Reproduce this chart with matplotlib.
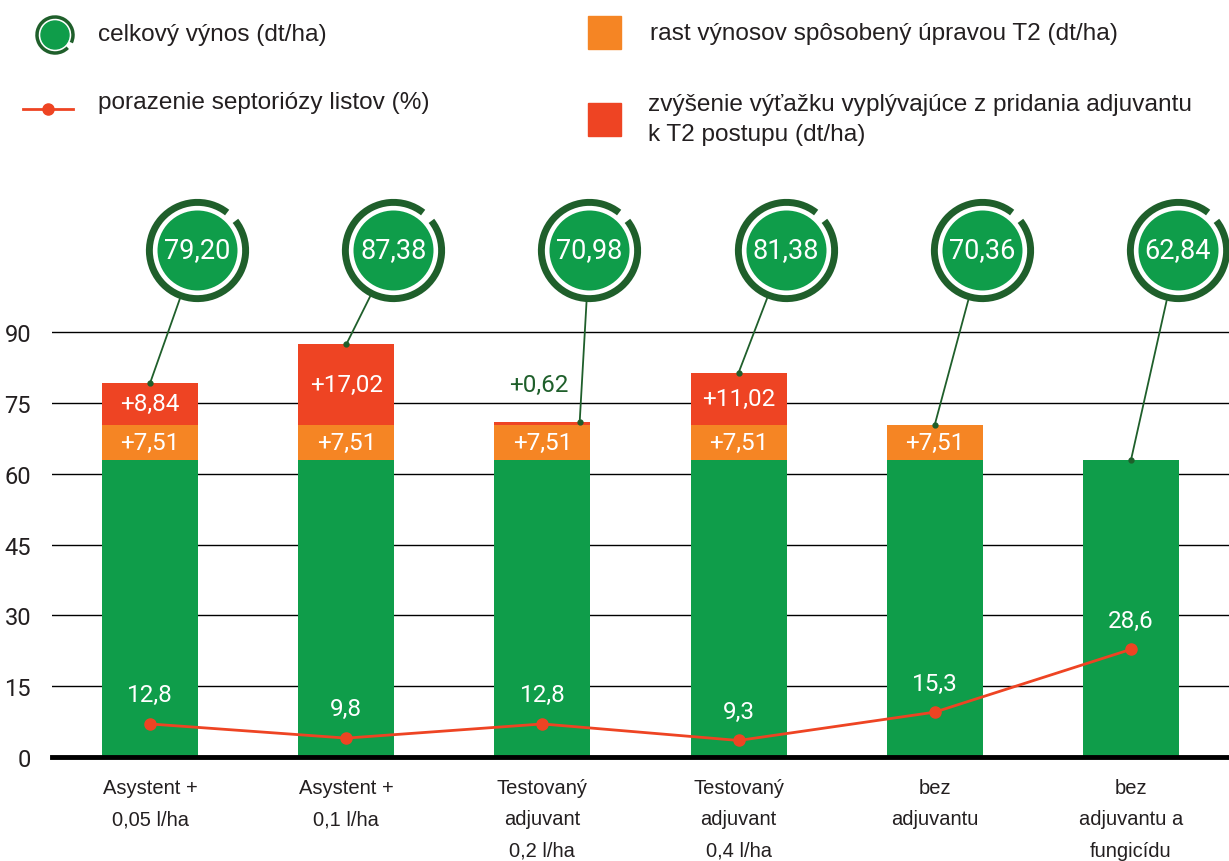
import matplotlib.pyplot as plt
from matplotlib.font_manager import FontProperties
from matplotlib.path import Path
from matplotlib.patches import Circle, Rectangle, Arc

# data
categories = ["Asystent +\n0,05 l/ha", "Asystent +\n0,1 l/ha",
              "Testovaný\nadjuvant\n0,2 l/ha", "Testovaný\nadjuvant\n0,4 l/ha",
              "bez\nadjuvantu", "bez\nadjuvantu a\nfungicídu"]
base = [62.84, 62.84, 62.84, 62.84, 62.84, 62.84]
t2_gain = [7.51, 7.51, 7.51, 7.51, 7.51, 0]
adj_gain = [8.84, 17.02, 0.62, 11.02, 0, 0]
total = [79.20, 87.38, 70.98, 81.38, 70.36, 62.84]
septoria = [12.8, 9.8, 12.8, 9.3, 15.3, 28.6]
yticks = [0, 15, 30, 45, 60, 75, 90]

GREEN = "#0f9d4a"
DARK = "#1f5f2b"
ORANGE = "#f58524"
RED = "#ee4423"
TXT = "#231f20"
REG = ["Liberation Sans", "DejaVu Sans"]


def NF(size):
    # narrow-looking face for the numbers
    return FontProperties(family=["Roboto", "DejaVu Sans"], weight="normal", size=size)


fig = plt.figure(figsize=(12.29, 8.62), dpi=100)

# overlay in pixel units for the legend
lg = fig.add_axes([0, 0, 1, 1])
lg.set_xlim(0, 1229)
lg.set_ylim(862, 0)
lg.axis("off")
lg.add_patch(Circle((55, 36), 14, color=GREEN))
lg.add_patch(Arc((55, 36), 36, 36, theta1=45, theta2=385, color=DARK, lw=2.5))
lg.plot([23, 73], [110, 110], color=RED, lw=2)
lg.plot([48], [110], "o", color=RED, ms=8)
lg.add_patch(Rectangle((588, 17), 33, 33, color=ORANGE))
lg.add_patch(Rectangle((588, 104), 33, 33, color=RED))
lfs = 17.6
lg.text(98, 35, "celkový výnos (dt/ha)", va="center", fontsize=lfs, color=TXT, family=REG)
lg.text(98, 103, "porazenie septoriózy listov (%)", va="center", fontsize=lfs, color=TXT, family=REG)
lg.text(650, 34, "rast výnosov spôsobený úpravou T2 (dt/ha)", va="center", fontsize=lfs, color=TXT, family=REG)
lg.text(648, 120, "zvýšenie výťažku vyplývajúce z pridania adjuvantu\nk T2 postupu (dt/ha)",
        va="center", fontsize=lfs, color=TXT, family=REG, linespacing=1.45)

ax = fig.add_axes([52 / 1229, 1 - 758 / 862, 1 - 52 / 1229, 543 / 862])
ax.set_facecolor("none")
x = list(range(len(categories)))
w = 0.49
bottom2 = [b + t for b, t in zip(base, t2_gain)]
ax.bar(x, base, w, color=GREEN, zorder=2)
ax.bar(x, t2_gain, w, bottom=base, color=ORANGE, zorder=2)
ax.bar(x, adj_gain, w, bottom=bottom2, color=RED, zorder=2)

ax.set_xlim(-0.5, 5.5)
ax.set_ylim(0, 115)
ax.set_yticks(yticks)
ax.set_yticklabels([str(t) for t in yticks], color=TXT)
for lab in ax.get_yticklabels():
    lab.set_fontproperties(NF(17))
ax.grid(axis="y", color="black", lw=1)
ax.set_axisbelow(True)
for s in ax.spines.values():
    s.set_visible(False)
ax.axhline(0, color="black", lw=3.5, clip_on=False, zorder=3)
ax.tick_params(axis="y", length=0, pad=15)
ax.set_xticks(x)
ax.set_xticklabels(categories, fontsize=14.5, family=REG, color=TXT, linespacing=1.83)
ax.tick_params(axis="x", length=0, pad=15)

def fmt(v, plus=False):
    s = f"{v:.2f}".replace(".", ",")
    return "+" + s if plus else s

for i in x:
    if t2_gain[i] > 0:
        ax.text(i, base[i] + t2_gain[i] / 2, fmt(t2_gain[i], True), ha="center", va="center",
                color="white", fontproperties=NF(17.5), zorder=4)
    if adj_gain[i] > 3:
        ax.text(i, bottom2[i] + adj_gain[i] / 2, fmt(adj_gain[i], True), ha="center", va="center",
                color="white", fontproperties=NF(17.5), zorder=4)
    elif adj_gain[i] > 0:
        ax.text(i - 0.02, total[i] + 8, fmt(adj_gain[i], True), ha="center", va="center",
                color=DARK, fontproperties=NF(17.5), zorder=4)

# total yield circles with connectors
ring = Path.arc(52, 398)
cy = 107.4
link_dx = [0, 0, 0.19, 0, 0, 0]
for i in x:
    cx = i + 0.24
    ax.annotate("", xy=(i + link_dx[i], total[i]), xytext=(cx, cy), annotation_clip=False,
                arrowprops=dict(arrowstyle="-", color=DARK, lw=1.3, shrinkA=37.5, shrinkB=0))
    ax.plot(i + link_dx[i], total[i], "o", color=DARK, ms=3.5, zorder=5)
    ax.plot(cx, cy, "o", ms=57.6, mfc=GREEN, mec="none", clip_on=False, zorder=5)
    ax.plot(cx, cy, marker=ring, ms=69.8, mew=5, mfc="none", mec=DARK, ls="none",
            clip_on=False, zorder=5)
    ax.text(cx, cy, fmt(total[i]), ha="center", va="center", color="white",
            fontproperties=NF(19.5), zorder=6, clip_on=False)

# septoria line on offset secondary scale
ax2 = ax.twinx()
ax2.set_ylim(5.8, 115 + 5.8)
ax2.axis("off")
ax2.plot(x, septoria, color=RED, lw=2, marker="o", ms=8, zorder=5)
for i in x:
    ax2.annotate(f"{septoria[i]:.1f}".replace(".", ","), (i, septoria[i]), xytext=(0, 21),
                 textcoords="offset points", ha="center", va="center", color="white",
                 fontproperties=NF(17.5))

fig.savefig("out.png", dpi=100)
